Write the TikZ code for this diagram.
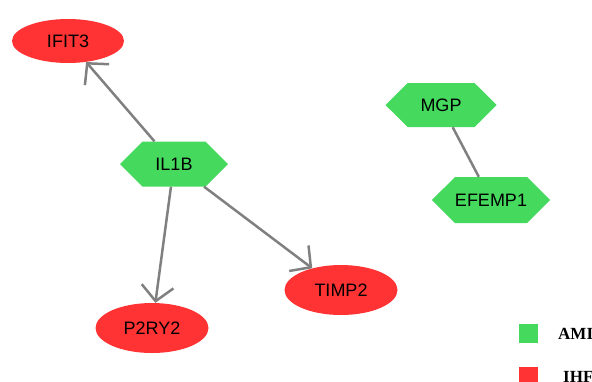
\documentclass[tikz,border=0pt]{standalone}
\usepackage{fontspec}
\setmainfont{Liberation Sans}
\newfontfamily\legendfont{Liberation Serif}
\usetikzlibrary{shapes.geometric,shapes.symbols,arrows.meta}
\definecolor{nodegreen}{RGB}{69,217,94}
\definecolor{nodered}{RGB}{255,51,51}
\definecolor{edgegray}{RGB}{128,128,128}
\tikzset{
  redell/.style={ellipse, fill=nodered, draw=none, inner sep=0pt, font=\fontsize{18}{20}\selectfont},
  greenhex/.style={signal, signal to=east and west, signal pointer angle=90, fill=nodegreen, draw=none, inner sep=0pt, font=\fontsize{18}{20}\selectfont},
  edge/.style={draw=edgegray, line width=2.5pt},
  arrowedge/.style={edge, -{Straight Barb[length=15pt,width=32pt,line width=2.5pt]}},
  legbox/.style={rectangle, minimum size=19pt, inner sep=0pt, draw=none},
  legtext/.style={anchor=west, inner sep=0pt, font=\legendfont\bfseries\fontsize{17}{19}\selectfont}
}
\begin{document}
\begin{tikzpicture}[x=1pt,y=-1pt]
\useasboundingbox (0,0) rectangle (592,381);
\clip (0,0) rectangle (592,381);
\node[redell, minimum width=112pt, minimum height=44pt] (IFIT3) at (68,41) {IFIT3};
\node[redell, minimum width=113pt, minimum height=50pt] (TIMP2) at (341,290) {TIMP2};
\node[redell, minimum width=113pt, minimum height=50pt] (P2RY2) at (152,328) {P2RY2};
\node[greenhex, minimum width=108pt, minimum height=45pt] (IL1B) at (174,164) {IL1B};
\node[greenhex, minimum width=111pt, minimum height=44pt] (MGP) at (441,105) {MGP};
\node[greenhex, minimum width=112pt, minimum height=46pt] (EFEMP1) at (491,200) {EFEMP1};
\draw[arrowedge] (IL1B) -- (IFIT3);
\draw[arrowedge] (IL1B) -- (P2RY2);
\draw[arrowedge] (IL1B) -- (TIMP2);
\draw[edge] (MGP) -- (EFEMP1);
\node[legbox, fill=nodegreen] (legAMI) at (528.5,333.5) {};
\node[legbox, fill=nodered] (legIHF) at (528.5,376.5) {};
\node[legtext] (txtAMI) at (558,334) {AMI};
\node[legtext] (txtIHF) at (563,377) {IHF};
\end{tikzpicture}
\end{document}
